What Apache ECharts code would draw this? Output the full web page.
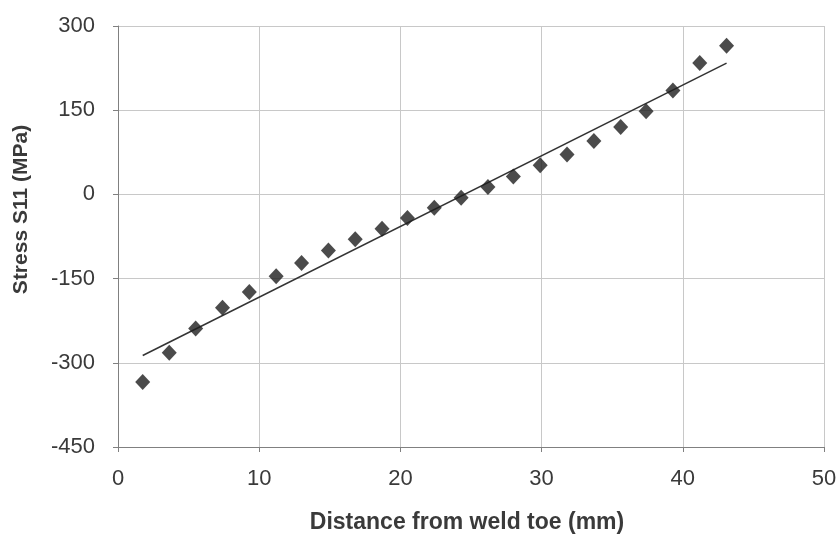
<!DOCTYPE html>
<html>
<head>
<meta charset="utf-8">
<script src="https://cdn.jsdelivr.net/npm/echarts@6/dist/echarts.min.js"></script>
<style>
  html, body { margin: 0; padding: 0; background: #fff; }
  #chart { width: 840px; height: 537px; }
</style>
</head>
<body>
<div id="chart"></div>
<script>
// Measured stress S11 along the path from the weld toe
const distance = [1.75, 3.63, 5.5, 7.4, 9.3, 11.2, 13.0, 14.9, 16.8, 18.7, 20.5, 22.4,
                  24.3, 26.2, 28.0, 29.9, 31.8, 33.7, 35.6, 37.4, 39.3, 41.2, 43.1];
const stress = [-334, -282, -239, -202, -174, -146, -122, -100, -80, -61, -42, -24,
                -6, 13, 32, 52, 71, 95, 120, 148, 185, 234, 265];

// Linear trend line end points
const trendX = [1.75, 43.1];
const trendY = [-287, 234];

const font = '"Liberation Sans", Arial, sans-serif';
const chart = echarts.init(document.getElementById('chart'));

chart.setOption({
  backgroundColor: '#ffffff',
  animation: false,
  grid: { left: 118, right: 16, top: 26, bottom: 90, containLabel: false,
          outerBoundsMode: 'none' },
  xAxis: {
    type: 'value', min: 0, max: 50, interval: 10,
    name: 'Distance from weld toe (mm)', nameLocation: 'middle', nameGap: 64,
    nameTextStyle: { fontFamily: font, fontSize: 23, fontWeight: 'bold', color: '#3a3a3a',
                     padding: [0, 8, 0, 0] },
    axisLine: { show: true, onZero: false, lineStyle: { color: '#808080', width: 1 } },
    axisTick: { show: true, length: 5, lineStyle: { color: '#808080' } },
    axisLabel: { fontFamily: font, fontSize: 22, color: '#3a3a3a', margin: 21 },
    splitLine: { show: true, lineStyle: { color: '#c8c8c8', width: 1 } }
  },
  yAxis: {
    type: 'value', min: -450, max: 300, interval: 150,
    name: 'Stress S11 (MPa)', nameLocation: 'middle', nameGap: 86, nameRotate: 90,
    nameTextStyle: { fontFamily: font, fontSize: 21, fontWeight: 'bold', color: '#3a3a3a',
                     padding: [0, 0, 0, 54] },
    axisLine: { show: true, onZero: false, lineStyle: { color: '#808080', width: 1 } },
    axisTick: { show: true, length: 5, lineStyle: { color: '#808080' } },
    axisLabel: { fontFamily: font, fontSize: 22, color: '#3a3a3a', margin: 23 },
    splitLine: { show: true, lineStyle: { color: '#c8c8c8', width: 1 } }
  },
  series: [
    {
      type: 'line',
      data: trendX.map((x, i) => [x, trendY[i]]),
      symbol: 'none',
      lineStyle: { color: '#333', width: 1.5 },
      z: 2
    },
    {
      type: 'scatter',
      data: distance.map((x, i) => [x, stress[i]]),
      symbol: 'diamond',
      symbolSize: [15, 16],
      itemStyle: { color: '#1e1e1e' },
      z: 3
    }
  ]
});
</script>
</body>
</html>
